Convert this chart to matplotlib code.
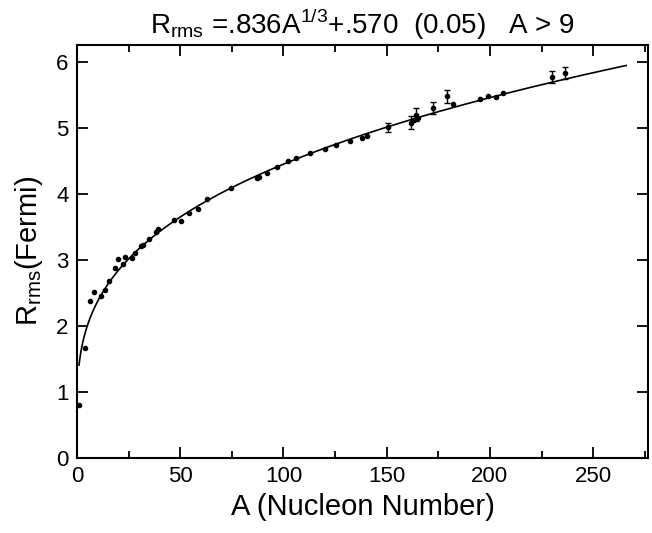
import numpy as np
import matplotlib
matplotlib.use("Agg")
import matplotlib.pyplot as plt
from matplotlib.ticker import MultipleLocator

# Data
A_pts = [1, 4, 6.3, 8.2, 11.6, 13.6, 15.5, 18.4, 19.8, 22.3, 23.3, 26.6, 28.1, 31, 32, 34.9,
         38.5, 39.2, 47, 50.4, 54.3, 58.6, 63, 74.6, 87, 88, 92, 97, 102, 106,
         113, 120, 125.5, 132, 138, 140.5, 150.7, 162, 163, 164, 165, 172.5, 179.3,
         182, 195, 199, 203, 206.5, 230, 236.4]
R_pts = [0.80, 1.67, 2.38, 2.51, 2.45, 2.54, 2.68, 2.88, 3.01, 2.94, 3.05, 3.03, 3.10, 3.21, 3.22, 3.32,
         3.43, 3.47, 3.60, 3.59, 3.71, 3.77, 3.92, 4.09, 4.24, 4.26, 4.32, 4.41, 4.50, 4.54,
         4.62, 4.68, 4.74, 4.80, 4.85, 4.88, 5.01, 5.08, 5.12, 5.20, 5.15, 5.30, 5.48,
         5.36, 5.44, 5.48, 5.47, 5.53, 5.77, 5.83]
A_err = [150.7, 162, 164, 172.5, 179.3, 230, 236.4]
R_err = [5.01, 5.08, 5.20, 5.30, 5.48, 5.77, 5.83]
E_err = [0.07, 0.10, 0.10, 0.09, 0.10, 0.09, 0.09]

coef_a = 0.836
coef_b = 0.570
A_fit = np.linspace(1, 266, 400)
R_fit = coef_a * A_fit ** (1 / 3) + coef_b

plt.rcParams['font.family'] = ['Liberation Sans', 'DejaVu Sans']
plt.rcParams['mathtext.fontset'] = 'custom'
plt.rcParams['mathtext.rm'] = 'Liberation Sans'

fig = plt.figure(figsize=(6.52, 5.33), dpi=100)
ax = fig.add_axes([0.118, 0.141, 0.876, 0.775])

ax.plot(A_fit, R_fit, color='black', lw=1.2)
ax.plot(A_pts, R_pts, 'o', color='black', ms=3.0)
ax.errorbar(A_err, R_err, yerr=E_err, fmt='none', ecolor='black', elinewidth=1.0,
            capsize=2, capthick=1.0)

ax.set_xlim(0, 276.6)
ax.set_ylim(0, 6.26)
ax.xaxis.set_major_locator(MultipleLocator(50))
ax.xaxis.set_minor_locator(MultipleLocator(25))
ax.yaxis.set_major_locator(MultipleLocator(1))
ax.tick_params(which='both', direction='in', top=True, right=True, width=1.3,
               labelsize=16, pad=6)
ax.tick_params(which='major', length=8)
ax.tick_params(which='minor', length=5)
for s in ax.spines.values():
    s.set_linewidth(1.5)

ax.set_xlabel('A (Nucleon Number)', fontsize=21, labelpad=4)
ax.set_ylabel(r'$\mathregular{R_{rms}}$(Fermi)', fontsize=21, labelpad=8)
ax.set_title(r'$\mathregular{R_{rms}}$ =.836A$^{\mathregular{1/3}}$+.570  (0.05)   A > 9',
             fontsize=20, pad=8)

fig.savefig('out.png', dpi=100)
